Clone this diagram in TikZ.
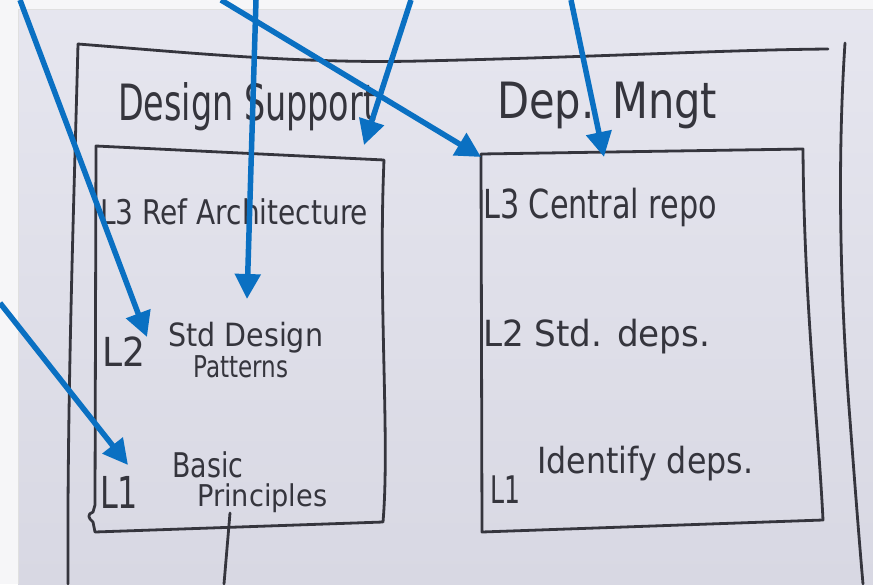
\documentclass[tikz,border=0pt]{standalone}
\usepackage{fontspec}
\usepackage{graphicx}
\setmainfont{DejaVu Sans}
\usetikzlibrary{arrows.meta}
\definecolor{papertop}{HTML}{E6E6EF}
\definecolor{paperbot}{HTML}{D8D8E3}
\definecolor{margin}{HTML}{F6F6F8}
\definecolor{ink}{HTML}{35353D}
\definecolor{pen}{HTML}{0A70C2}
\newcommand\handtext[3]{\resizebox{#1pt}{\height}{\fontsize{#2}{#2}\selectfont #3}}
\tikzset{
  inkline/.style={draw=ink, line width=2.8pt, line cap=round, line join=round},
  penarrow/.style={draw=pen, line width=5.5pt, -{Triangle[length=25pt,width=25pt]}},
  hw/.style={text=ink, inner sep=0pt, anchor=base west},
}
\begin{document}
\begin{tikzpicture}[x=1pt,y=-1pt]
\useasboundingbox (0,0) rectangle (873,584);
\fill[margin] (0,0) rectangle (873,584);
\shade[top color=papertop, bottom color=paperbot] (18,9) rectangle (873,584);
\draw[black!12, line width=1pt] (18,584) -- (18,9) -- (873,9);

% outer frame
\coordinate (otl) at (78,44);
\coordinate (otr) at (828,49);
\coordinate (orr) at (845,43);
\coordinate (obl) at (68,584);
\coordinate (obr) at (863,584);
\draw[inkline] (otl) .. controls (180,52) and (300,64) .. (420,61) .. controls (600,57) and (720,50) .. (otr);
\draw[inkline] (otl) .. controls (74,200) and (67,400) .. (obl);
\draw[inkline] (orr) .. controls (836,180) and (842,320) .. (850,420) .. controls (856,500) and (860,550) .. (obr);

% left inner box
\coordinate (ltl) at (96,146);
\coordinate (ltr) at (384,160);
\coordinate (lbr) at (383,522);
\coordinate (lbl) at (95,532);
\draw[inkline] (ltl) -- (ltr) .. controls (378,300) and (390,440) .. (lbr) -- (lbl)
  -- (93,522) .. controls (88,518) and (87,514) .. (93,512) -- (95,505) -- cycle;

% right inner box
\coordinate (rtl) at (481,154);
\coordinate (rtr) at (803,149);
\coordinate (rbr) at (823,520);
\coordinate (rbl) at (482,532);
\draw[inkline] (rtl) -- (rtr) .. controls (804,300) and (818,420) .. (rbr) -- (rbl) -- cycle;

% stem below left box
\coordinate (stemtop) at (230,513);
\coordinate (stembot) at (224,584);
\draw[inkline] (stemtop) -- (stembot);

% texts
\node[hw] (ds)  at (118,120) {\handtext{258}{50}{Design Support}};
\node[hw] (dm)  at (497,118) {\handtext{220}{50}{Dep. Mngt}};
\node[hw] (l3a) at (100,224) {\handtext{268}{34}{L3 Ref Architecture}};
\node[hw] (l2a) at (102,366) {\handtext{43}{40}{L2}};
\node[hw] (sdp) at (168,346) {\handtext{155}{32}{Std Design}};
\node[hw] (pat) at (193,377) {\handtext{95}{30}{Patterns}};
\node[hw] (l1a) at (100,508) {\handtext{38}{44}{L1}};
\node[hw] (bas) at (172,477) {\handtext{71}{34}{Basic}};
\node[hw] (pri) at (197,506) {\handtext{130}{30}{Principles}};
\node[hw] (l3b) at (483,218) {\handtext{234}{40}{L3 Central repo}};
\node[hw] (l2b) at (483,346) {\handtext{227}{36}{L2 Std. deps.}};
\node[hw] (l1b) at (490,503) {\handtext{30}{38}{L1}};
\node[hw] (idd) at (537,473) {\handtext{216}{36}{Identify deps.}};

% blue arrows
\coordinate (a1s) at (20,0);   \coordinate (a1e) at (147,337);
\coordinate (a2s) at (0,303);  \coordinate (a2e) at (128,465);
\coordinate (a3s) at (256,0);  \coordinate (a3e) at (247,299);
\coordinate (a4s) at (411,0);  \coordinate (a4e) at (364,145);
\coordinate (a5s) at (221,0);  \coordinate (a5e) at (481,157);
\coordinate (a6s) at (571,0);  \coordinate (a6e) at (604,157);
\draw[penarrow] (a1s) -- (a1e);
\draw[penarrow] (a2s) -- (a2e);
\draw[penarrow] (a3s) -- (a3e);
\draw[penarrow] (a4s) -- (a4e);
\draw[penarrow] (a5s) -- (a5e);
\draw[penarrow] (a6s) -- (a6e);
\end{tikzpicture}
\end{document}
